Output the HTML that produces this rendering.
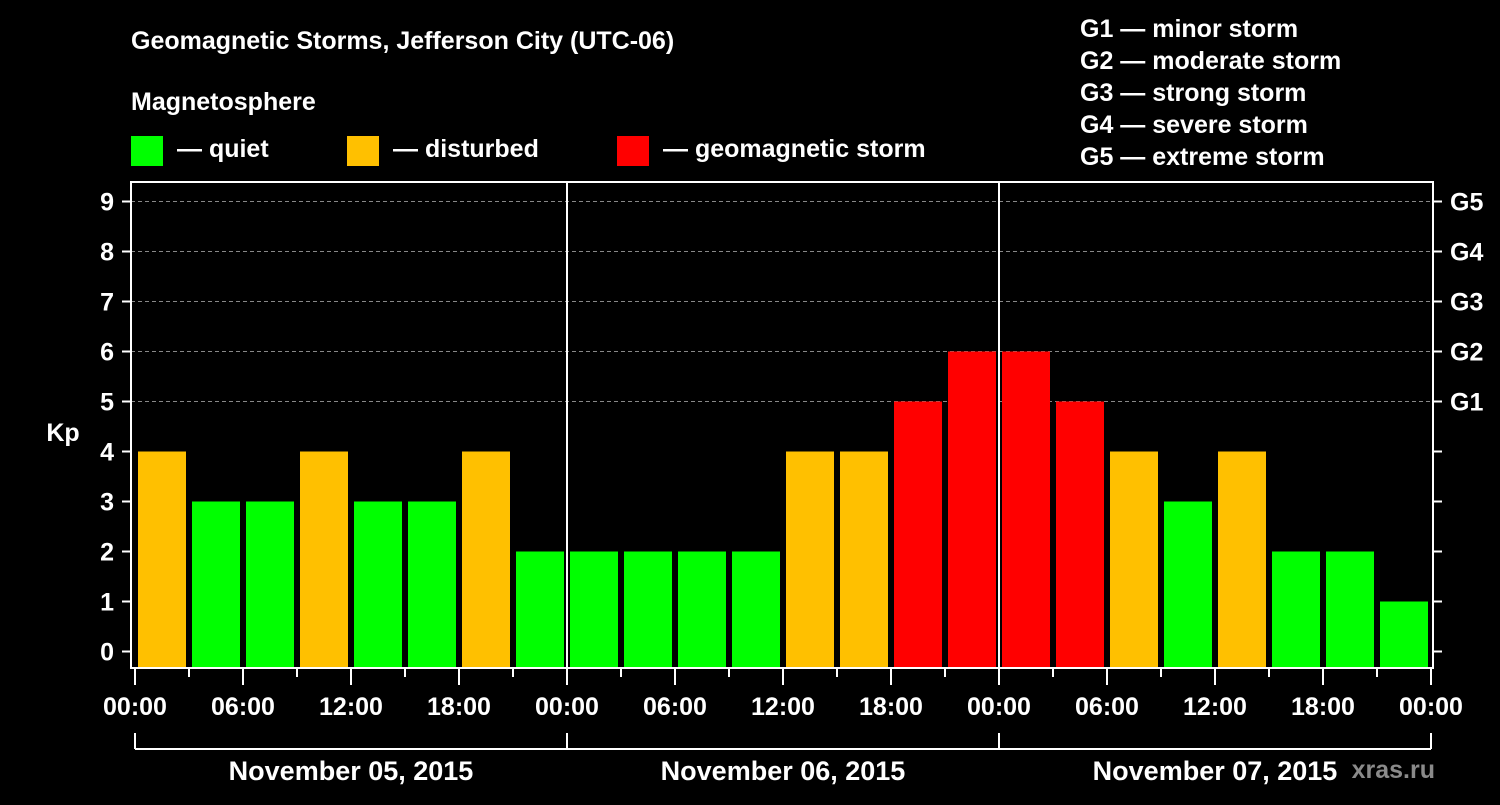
<!DOCTYPE html>
<html><head><meta charset="utf-8"><style>
html,body{margin:0;padding:0;background:#000;}
svg text{font-family:"Liberation Sans",Arial,sans-serif;font-weight:bold;fill:#fff;}
</style></head><body>
<svg width="1500" height="800" viewBox="0 0 1500 800" xmlns="http://www.w3.org/2000/svg">
<rect width="1500" height="800" fill="#000"/>
<text x="131" y="49" font-size="25">Geomagnetic Storms, Jefferson City (UTC-06)</text>
<text x="131" y="110" font-size="25">Magnetosphere</text>
<g><rect x="131" y="136" width="32" height="30" fill="#00ff00"/><text x="177" y="157" font-size="25">— quiet</text></g>
<g><rect x="347" y="136" width="32" height="30" fill="#ffc000"/><text x="393" y="157" font-size="25">— disturbed</text></g>
<g><rect x="617" y="136" width="32" height="30" fill="#ff0000"/><text x="663" y="157" font-size="25">— geomagnetic storm</text></g>
<g font-size="25">
<text x="1080" y="37">G1 — minor storm</text>
<text x="1080" y="69">G2 — moderate storm</text>
<text x="1080" y="101">G3 — strong storm</text>
<text x="1080" y="133">G4 — severe storm</text>
<text x="1080" y="165">G5 — extreme storm</text>
</g>
<g id="grid"></g>
<g id="bars"></g>
<rect x="131" y="182" width="1302" height="486" fill="none" stroke="#fff" stroke-width="2"/>
<g id="axes"></g>
<text x="63" y="441" font-size="25" text-anchor="middle">Kp</text>
<text x="1435" y="778" font-size="25" text-anchor="end" fill="#888" style="fill:#8a8a8a">xras.ru</text>
</svg>
<script>
const kpValues=[4,3,3,4,3,3,4,2, 2,2,2,2,4,4,5,6, 6,5,4,3,4,2,2,1];
const yTicks=[0,1,2,3,4,5,6,7,8,9];
const gLabels=["G1","G2","G3","G4","G5"];
const gLevels=[5,6,7,8,9];
const dayLabels=["November 05, 2015","November 06, 2015","November 07, 2015"];
const hourLabels=["00:00","06:00","12:00","18:00"];
const NS="http://www.w3.org/2000/svg";
const X0=135,DAY=432,Y0=651.5,UNIT=50;
function xs(h){return X0+h*DAY/24;}
function ys(v){return Y0-v*UNIT;}
function mk(t,a,p){const e=document.createElementNS(NS,t);for(const k in a)e.setAttribute(k,a[k]);p.appendChild(e);return e;}
const grid=document.getElementById('grid'),bars=document.getElementById('bars'),axes=document.getElementById('axes');
yTicks.forEach(v=>{
 if(v>=5){const l=mk('line',{x1:131,x2:1433,y1:ys(v),y2:ys(v),stroke:'#888','stroke-dasharray':'4,3','stroke-width':1},grid);
 
 }
 const t=mk('line',{x1:122,x2:131,y1:ys(v),y2:ys(v),stroke:'#fff','stroke-width':2},axes);
 
 
 const r=mk('line',{x1:1433,x2:1442,y1:ys(v),y2:ys(v),stroke:'#fff','stroke-width':2},axes);
 
 
 const tx=mk('text',{x:114,y:ys(v)+9,'font-size':25,'text-anchor':'end'},axes);
 tx.textContent=v;
 
 
});
gLabels.forEach((g,i)=>{
 const tx=mk('text',{x:1450,y:ys(gLevels[i])+9,'font-size':25},axes);
 tx.textContent=g;
 
 
});
kpValues.forEach((v,i)=>{
 const c=v>=5?'#ff0000':(v==4?'#ffc000':'#00ff00');
 const r=mk('rect',{x:xs(i*3)+3,y:ys(v),width:48,height:668-ys(v),fill:c},bars);
 
 
});
for(let d=1;d<dayLabels.length;d++){
 const l=mk('line',{x1:xs(d*24),x2:xs(d*24),y1:182,y2:668,stroke:'#fff','stroke-width':2},axes);
 
 
}
for(let h=0;h<=72;h+=3){
 const major=h%6==0;
 const l=mk('line',{x1:xs(h),x2:xs(h),y1:668,y2:major?685:677,stroke:'#fff','stroke-width':2},axes);
 
 
 if(major){const t=mk('text',{x:xs(h),y:715,'font-size':25,'text-anchor':'middle'},axes);
 t.textContent=hourLabels[(h%24)/6];
 
 }
}
mk('line',{x1:xs(0),x2:xs(72),y1:749,y2:749,stroke:'#fff','stroke-width':2},axes);
for(let d=0;d<=dayLabels.length;d++){
 const l=mk('line',{x1:xs(d*24),x2:xs(d*24),y1:733,y2:749,stroke:'#fff','stroke-width':2},axes);
 
 
}
dayLabels.forEach((s,d)=>{
 const t=mk('text',{x:xs(d*24+12),y:780,'font-size':27,'text-anchor':'middle'},axes);
 t.textContent=s;
 
 
});
</script>
</body></html>
